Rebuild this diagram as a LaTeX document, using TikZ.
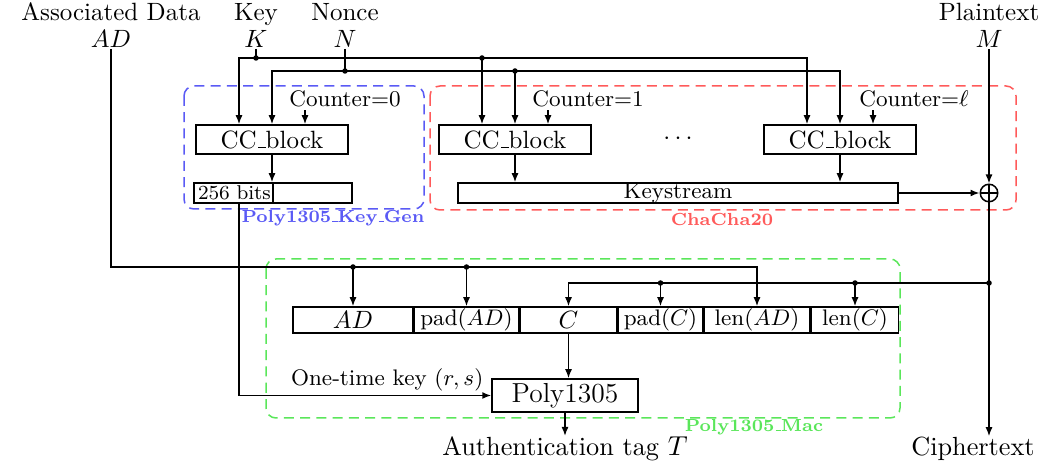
\documentclass[tikz,border=0pt]{standalone}
\usepackage{xcolor}
\usepackage{tikz}
\usetikzlibrary{arrows.meta,positioning,calc}
\definecolor{KeyGen}{HTML}{5A5AF5}
\definecolor{Cha}{HTML}{FF5A5A}
\definecolor{Mac}{HTML}{5AE65A}
\newcommand{\ubar}{\leavevmode\kern.06em\vbox{\hrule width.3em height .4pt}}

\begin{document}
\begin{tikzpicture}[x=0.4pt,y=-0.4pt,node distance=0pt,>={Latex[length=3.6pt,width=2.8pt]}]
\tikzset{ccbox/.style={draw,semithick,minimum width=60.8pt,minimum height=11.6pt,inner sep=0pt}, plainbox/.style={draw,semithick,inner sep=0pt,minimum height=8pt}, field/.style={draw,semithick,inner xsep=0.5pt,inner ysep=0pt,minimum height=10.4pt}, iolabel/.style={align=center,font=\fontsize{10}{10.8}\selectfont,inner sep=0.3pt}, ctr/.style={font=\small,inner sep=1pt}, arrow/.style={->,semithick}, line/.style={semithick}, group/.style={semithick,rounded corners=4pt,dash pattern=on 4pt off 2.5pt}, grouptag/.style={font=\scriptsize\bfseries,inner sep=0pt}}
\useasboundingbox (0,0) rectangle (1044,464);
\node[iolabel,anchor=south] (adin) at (111,49) {Associated Data\\$AD$};
\node[iolabel,anchor=south] (keyin) at (256,49) {Key\\$K$};
\node[iolabel,anchor=south] (noncein) at (345,49) {Nonce\\$N$};
\node[iolabel,anchor=south] (ptin) at (989,49) {Plaintext\\$M$};
\draw[group,KeyGen] (184,86) rectangle (424,209);
\draw[group,Cha] (430,86) rectangle (1016,210);
\draw[group,Mac] (266,259) rectangle (900,418);
\node[grouptag,text=KeyGen] (keygenlab) at (333,218) {Poly1305\ubar Key\ubar Gen};
\node[grouptag,text=Cha] (chachalab) at (722,220) {ChaCha20};
\node[grouptag,text=Mac] (maclab) at (754,427) {Poly1305\ubar Mac};
\node[ccbox] (cc0) at (272,139.5) {CC\ubar block};
\node[ccbox] (cc1) at (515,139.5) {CC\ubar block};
\node[ccbox] (cc2) at (840,139.5) {CC\ubar block};
\node (dots) at (678,139) {$\cdots$};
\node[ctr] (ctr0) at ($(cc0.north)+(73,-25)$) {Counter=0};
\node[ctr] (ctr1) at ($(cc1.north)+(73,-25)$) {Counter=1};
\node[ctr] (ctr2) at ($(cc2.north)+(74,-25)$) {Counter=$\ell$};
\foreach \b/\c in {cc0/ctr0,cc1/ctr1,cc2/ctr2} {
  \coordinate (k\b) at ($(\b.north)+(-33,0)$);
  \coordinate (c\b) at ($(\b.north)+(33,0)$);
  \draw[arrow] (c\b |- \c.south) -- (c\b);
}
\coordinate (kbus) at (256,58);
\coordinate (nbus) at (345,71);
\draw[line] (keyin.south) -- (kbus);
\draw[line] (noncein.south) -- (nbus);
\draw[<->,semithick] (kcc0) |- (kbus) -| (kcc2);
\draw[arrow] (kcc1 |- kbus) -- (kcc1);
\draw[<->,semithick] (cc0.north) |- (nbus) -| (cc2.north);
\draw[arrow] (cc1.north |- nbus) -- (cc1.north);
\foreach \p in {kbus,nbus,kcc1 |- kbus,cc1.north |- nbus} \fill (\p) circle (1.1pt);
\node[plainbox,inner xsep=1.6pt,text width=60pt,align=left,font=\footnotesize] (bits) at (273,193) {256 bits};
\draw[line] (bits.north) -- (bits.south);
\draw[arrow] (cc0.south) -- (cc0.south |- bits.north);
\node[plainbox,minimum width=176pt,font=\small] (ks) at (678,193) {Keystream};
\draw[arrow] (cc1.south) -- (cc1.south |- ks.north);
\draw[arrow] (cc2.south) -- (cc2.south |- ks.north);
\node[circle,draw,semithick,inner sep=0pt,minimum size=7pt,path picture={\draw (path picture bounding box.north) -- (path picture bounding box.south) (path picture bounding box.west) -- (path picture bounding box.east);}] (xor) at (989,193) {};
\draw[arrow] (ptin.south) -- (xor.north);
\draw[arrow] (ks.east) -- (xor.west);
\node[field,minimum width=48pt] (fad) at (353,320) {$AD$};
\node[field,minimum width=41.6pt,right=of fad,font=\small] (fpad) {pad$(AD)$};
\node[field,minimum width=38.8pt,right=of fpad] (fc) {$C$};
\node[field,minimum width=33.6pt,right=of fc,font=\small] (fpadc) {pad$(C)$};
\node[field,minimum width=42.4pt,right=of fpadc,font=\small] (flen) {len$(AD)$};
\node[field,minimum width=34.8pt,right=of flen,font=\small] (flenc) {len$(C)$};
\coordinate (adbus) at (111,267);
\draw[arrow] (adin.south) -- (adbus) -| (flen.north);
\foreach \f in {fad,fpad} {
  \draw[arrow] (\f.north |- adbus) -- (\f.north);
  \fill (\f.north |- adbus) circle (1.1pt);
}
\node[iolabel,anchor=base,font=\fontsize{10.5}{12}\selectfont] (ctout) at (973,456) {Ciphertext};
\draw[arrow] (xor.south) -- (xor.south |- ctout.north);
\coordinate (cbus) at (989,283);
\draw[arrow] (cbus) -| (fc.north);
\fill (cbus) circle (1.1pt);
\foreach \f in {fpadc,flenc} {
  \draw[arrow] (\f.north |- cbus) -- (\f.north);
  \fill (\f.north |- cbus) circle (1.1pt);
}
\node[draw,semithick,minimum width=58.4pt,minimum height=13.2pt,inner sep=0pt,font=\fontsize{11}{13}\selectfont] (poly) at (565,395.5) {Poly1305};
\draw[arrow] (fc.south) -- (fc.south |- poly.north);
\draw[arrow] ($(bits.south)+(-34,0)$) |- (poly.west);
\node[ctr,above left=0.5pt and 2pt of poly.west] (otk) {One-time key $(r,s)$};
\node[iolabel,anchor=base,font=\fontsize{10.5}{12}\selectfont] (tag) at (565,456) {Authentication tag $T$};
\draw[arrow] (poly.south) -- (tag.north);
\end{tikzpicture}
\end{document}
